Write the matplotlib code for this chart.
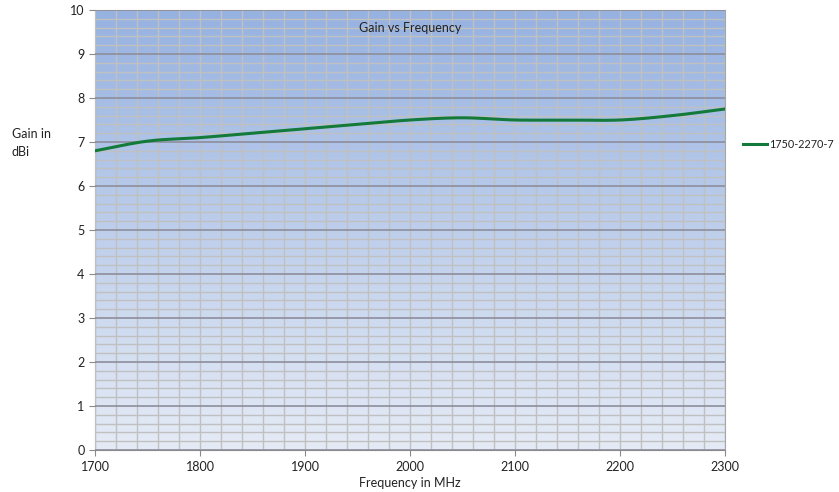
import numpy as np
import matplotlib.pyplot as plt
from matplotlib.ticker import MultipleLocator

plt.rcParams['font.family'] = ['Lato', 'DejaVu Sans']

# Gain readings, 50 MHz apart
freq = [1700, 1750, 1800, 1850, 1900, 1950, 2000, 2050, 2100, 2150, 2200, 2250, 2300]
gain = [6.8, 7.02, 7.1, 7.2, 7.3, 7.4, 7.5, 7.55, 7.5, 7.5, 7.5, 7.6, 7.75]
series_name = '1750-2270-7'


def smooth(x, y, n=20):
    # Catmull-Rom style smoothing, like Excel's "smoothed line"
    x = np.asarray(x, float)
    y = np.asarray(y, float)
    px = np.concatenate([[2 * x[0] - x[1]], x, [2 * x[-1] - x[-2]]])
    py = np.concatenate([[2 * y[0] - y[1]], y, [2 * y[-1] - y[-2]]])
    xs, ys = [], []
    for i in range(1, len(px) - 2):
        t = np.linspace(0, 1, n, endpoint=False)
        for p, out in ((px, xs), (py, ys)):
            p0, p1, p2, p3 = p[i - 1], p[i], p[i + 1], p[i + 2]
            out.extend(0.5 * (2 * p1 + (-p0 + p2) * t
                              + (2 * p0 - 5 * p1 + 4 * p2 - p3) * t ** 2
                              + (-p0 + 3 * p1 - 3 * p2 + p3) * t ** 3))
    xs.append(x[-1])
    ys.append(y[-1])
    return np.array(xs), np.array(ys)


fig = plt.figure(figsize=(8.39, 4.92), dpi=100)
ax = fig.add_axes([95 / 839, 1 - 450 / 492, 630 / 839, 440 / 492])

# gradient background
grad = np.linspace(0, 1, 256).reshape(-1, 1)
top = np.array([150, 178, 225]) / 255
bottom = np.array([229, 235, 246]) / 255
img = bottom + (top - bottom) * grad
ax.imshow(img.reshape(256, 1, 3), extent=[1700, 2300, 0, 10],
          origin='lower', aspect='auto', zorder=0)

ax.set_xlim(1700, 2300)
ax.set_ylim(0, 10)
ax.xaxis.set_major_locator(MultipleLocator(100))
ax.xaxis.set_minor_locator(MultipleLocator(20))
ax.yaxis.set_major_locator(MultipleLocator(1))
ax.yaxis.set_minor_locator(MultipleLocator(0.2))

ax.grid(True, which='minor', color='#c0c0c0', linewidth=1.0, zorder=1)
ax.grid(True, which='major', axis='x', color='#c0c0c0', linewidth=1.0, zorder=1)
ax.grid(True, which='major', axis='y', color='#8e8e9c', linewidth=1.2, zorder=1)
ax.set_axisbelow(False)

sx, sy = smooth(freq, gain)
ax.plot(sx, sy, color='#137a3a', linewidth=2.2, zorder=3, label=series_name)

for s in ax.spines.values():
    s.set_color('#a6a6a6')
ax.spines['left'].set_color('#8a8a8a')
ax.spines['bottom'].set_color('#8a8a8a')
ax.tick_params(which='major', length=4, color='#8a8a8a', labelsize=9, labelcolor='#222222')
ax.tick_params(which='minor', length=0)
ax.tick_params(axis='x', pad=4)

ax.text(0.5, 0.96, 'Gain vs Frequency', transform=ax.transAxes, ha='center', va='center',
        fontsize=9, color='#222222')
fig.text(12 / 839, 1 - 143 / 492, 'Gain in\ndBi', ha='left', va='center', fontsize=9,
         color='#222222', linespacing=1.5)
fig.text(410 / 839, 1 - 483 / 492, 'Frequency in MHz', ha='center', va='center',
         fontsize=9, color='#222222')

fig.legend(loc='center left', bbox_to_anchor=(743 / 839, 1 - 144 / 492), frameon=False,
           fontsize=7.8, handlelength=2.2, handletextpad=0.25, borderpad=0,
           borderaxespad=0, labelcolor='#222222')

fig.savefig('out.png', dpi=100)
